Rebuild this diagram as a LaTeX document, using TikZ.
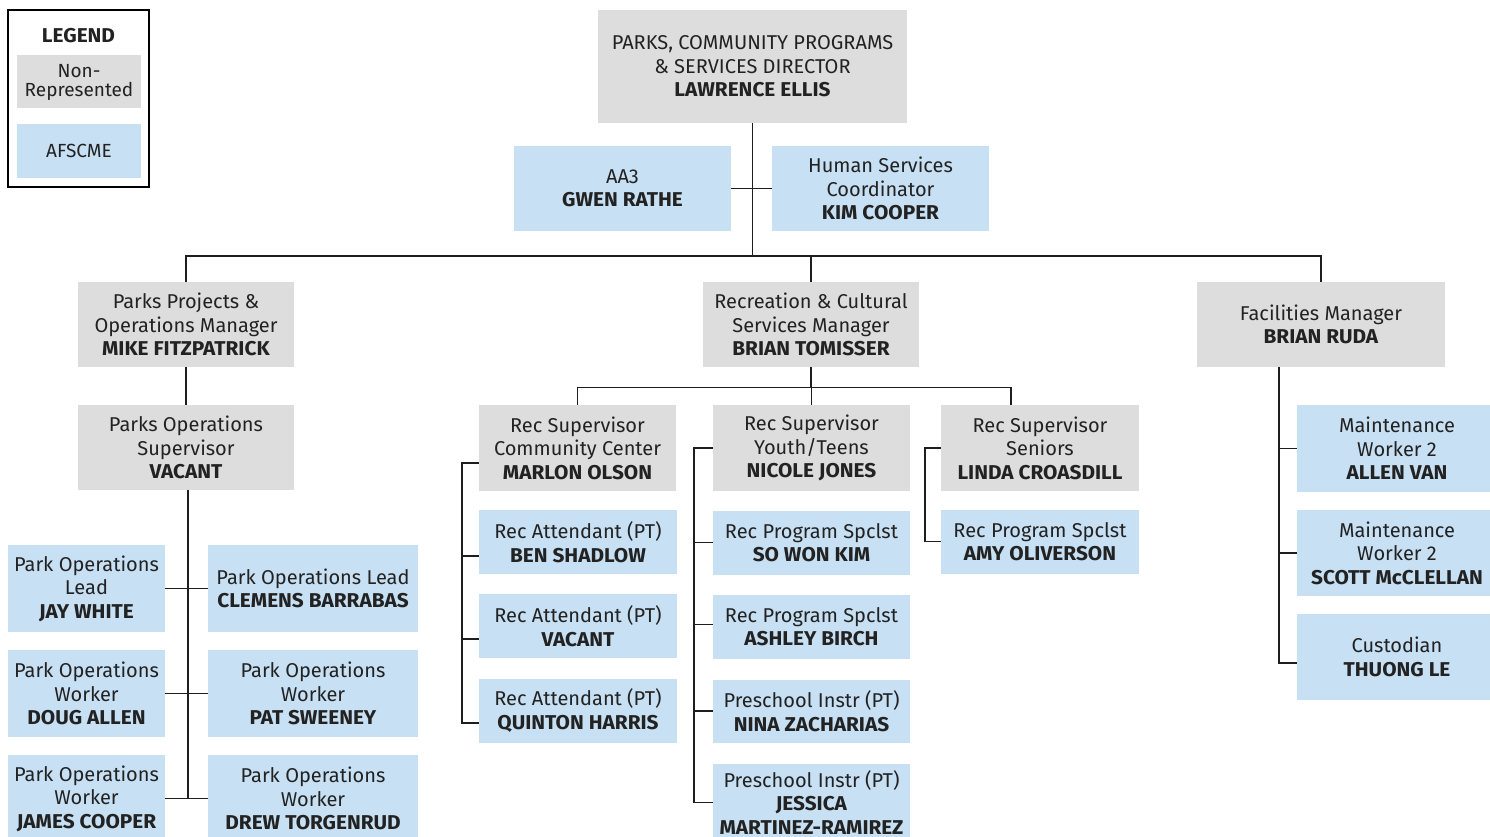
\documentclass[tikz,border=0pt]{standalone}
\usepackage{fontspec}
\setmainfont[BoldFeatures={FakeStretch=1.04}]{Fira Sans}
\begin{document}
\begin{tikzpicture}[x=1pt,y=-1pt,
  every node/.style={inner sep=0pt, align=center, text=textdark,
    font=\fontsize{20}{23.5}\selectfont},
  sz/.style 2 args={minimum width=#1pt, minimum height=#2pt},
  nonrep/.style={fill=nonrepfill},
  afscme/.style={fill=afscmefill},
  link/.style={line width=1.3pt, draw=linecol}]
\definecolor{nonrepfill}{HTML}{DDDDDD}
\definecolor{afscmefill}{HTML}{C7E0F3}
\definecolor{textdark}{HTML}{222222}
\definecolor{linecol}{HTML}{1E1E1E}
\useasboundingbox (0,0) rectangle (1490,837);

% ---- legend ----
\node[draw=black, line width=2pt, sz={141}{177}] (legend) at (78.5,98.5) {};
\node[font=\fontsize{20}{23.5}\selectfont\bfseries] (legtitle) at (78.5,36) {LEGEND};
\node[nonrep, sz={124}{53}, font=\fontsize{19}{19}\selectfont] (legnr) at (79,82) {Non-\\Represented};
\node[afscme, sz={124}{54}, font=\fontsize{19}{19}\selectfont] (legaf) at (79,151) {AFSCME};

% ---- director and staff ----
\node[nonrep, sz={309}{113}] (dir) at (752.5,66.5)
  {PARKS, COMMUNITY PROGRAMS\\\& SERVICES DIRECTOR\\\textbf{LAWRENCE ELLIS}};
\node[afscme, sz={217}{85}] (aa3) at (622.5,188.5) {AA3\\\textbf{GWEN RATHE}};
\node[afscme, sz={217}{85}] (hsc) at (880.5,188.5) {Human Services\\Coordinator\\\textbf{KIM COOPER}};

% ---- managers ----
\node[nonrep, sz={216}{85}] (pp) at (186,324.5) {Parks Projects \&\\Operations Manager\\\textbf{MIKE FITZPATRICK}};
\node[nonrep, sz={216}{85}] (rc) at (811,324.5) {Recreation \& Cultural\\Services Manager\\\textbf{BRIAN TOMISSER}};
\node[nonrep, sz={248}{85}] (fm) at (1321,324.5) {Facilities Manager\\\textbf{BRIAN RUDA}};

% ---- parks operations ----
\node[nonrep, sz={216}{85}] (pos) at (186,447.5) {Parks Operations\\Supervisor\\\textbf{VACANT}};
\node[afscme, sz={157}{87}] (w1l) at (86.5,588.5) {Park Operations\\Lead\\\textbf{JAY WHITE}};
\node[afscme, sz={210}{87}] (w1r) at (313,588.5) {Park Operations Lead\\\textbf{CLEMENS BARRABAS}};
\node[afscme, sz={157}{87}] (w2l) at (86.5,693.5) {Park Operations\\Worker\\\textbf{DOUG ALLEN}};
\node[afscme, sz={210}{87}] (w2r) at (313,693.5) {Park Operations\\Worker\\\textbf{PAT SWEENEY}};
\node[afscme, sz={157}{87}] (w3l) at (86.5,798.5) {Park Operations\\Worker\\\textbf{JAMES COOPER}};
\node[afscme, sz={210}{87}] (w3r) at (313,798.5) {Park Operations\\Worker\\\textbf{DREW TORGENRUD}};

% ---- recreation supervisors ----
\node[nonrep, sz={197}{86}] (rs1) at (577.5,448) {Rec Supervisor\\Community Center\\\textbf{MARLON OLSON}};
\node[nonrep, sz={197}{86}] (rs2) at (811.5,448) {Rec Supervisor\\Youth/Teens\\\textbf{NICOLE JONES}};
\node[nonrep, sz={198}{86}] (rs3) at (1040,448) {Rec Supervisor\\Seniors\\\textbf{LINDA CROASDILL}};

\node[afscme, sz={198}{64}] (ra1) at (578,542) {Rec Attendant (PT)\\\textbf{BEN SHADLOW}};
\node[afscme, sz={198}{64}] (ra2) at (578,626) {Rec Attendant (PT)\\\textbf{VACANT}};
\node[afscme, sz={198}{64}] (ra3) at (578,710.5) {Rec Attendant (PT)\\\textbf{QUINTON HARRIS}};

\node[afscme, sz={197}{64}] (ps1) at (811.5,542.5) {Rec Program Spclst\\\textbf{SO WON KIM}};
\node[afscme, sz={197}{64}] (ps2) at (811.5,626.5) {Rec Program Spclst\\\textbf{ASHLEY BIRCH}};
\node[afscme, sz={197}{63}] (pi1) at (811.5,711) {Preschool Instr (PT)\\\textbf{NINA ZACHARIAS}};
\node[afscme, sz={197}{77}] (pi2) at (811.5,802.5) {Preschool Instr (PT)\\\textbf{JESSICA}\\\textbf{MARTINEZ-RAMIREZ}};

\node[afscme, sz={198}{64}] (ps3) at (1040,541.5) {Rec Program Spclst\\\textbf{AMY OLIVERSON}};

% ---- facilities ----
\node[afscme, sz={200}{87}] (mw1) at (1397,448.5) {Maintenance\\Worker 2\\\textbf{ALLEN VAN}};
\node[afscme, sz={200}{86}] (mw2) at (1397,553) {Maintenance\\Worker 2\\\textbf{SCOTT McCLELLAN}};
\node[afscme, sz={200}{86}] (cu) at (1397,657) {Custodian\\\textbf{THUONG LE}};

% ---- connectors: top level ----
\coordinate (busY) at (0,256);
\draw[link] (dir.south) -- (dir.south |- busY);
\draw[link] (aa3.east) -- (hsc.west);
\draw[link] (pp.north) -- (pp.north |- busY) -- (fm.north |- busY) -- (fm.north);
\draw[link] (rc.north) -- (rc.north |- busY);

% ---- parks operations tree ----
\draw[link] (pp.south) -- (pos.north);
\coordinate (pv) at ([xshift=2pt]pos.south);
\draw[link] (pv) -- (pv |- w3l.east);
\draw[link] (w1l.east) -- (w1r.west);
\draw[link] (w2l.east) -- (w2r.west);
\draw[link] (w3l.east) -- (w3r.west);

% ---- recreation tree ----
\coordinate (rbus) at (0,387.5);
\coordinate (senTop) at ([xshift=-29pt]rs3.north);
\draw[link] (rc.south) -- (rc.south |- rbus);
\draw[link] (rs1.north) |- (senTop |- rbus) -- (senTop);
\draw[link] (rs2.north) -- (rs2.north |- rbus);

% community center bracket
\coordinate (cbx) at (462,0);
\coordinate (c1) at ([yshift=-15pt]rs1.west);
\coordinate (c2) at ([yshift=-14pt]ra1.west);
\coordinate (c3) at ([yshift=-13pt]ra2.west);
\coordinate (c4) at ([yshift=-12.5pt]ra3.west);
\draw[link] (c1) -- (cbx |- c1) -- (cbx |- c4) -- (c4);
\draw[link] (c2) -- (cbx |- c2);
\draw[link] (c3) -- (cbx |- c3);

% youth/teens bracket
\coordinate (ybx) at (694,0);
\coordinate (y2) at ([yshift=2pt]ps2.west);
\draw[link] (rs2.west) -- (ybx |- rs2.west) -- (ybx |- pi2.west) -- (pi2.west);
\draw[link] (ps1.west) -- (ybx |- ps1.west);
\draw[link] (y2) -- (ybx |- y2);
\draw[link] (pi1.west) -- (ybx |- pi1.west);

% seniors bracket
\coordinate (sbx) at (925,0);
\draw[link] (rs3.west) -- (sbx |- rs3.west) -- (sbx |- ps3.west) -- (ps3.west);

% ---- facilities bracket ----
\coordinate (fbx) at (1279,0);
\coordinate (f3) at ([yshift=-6pt]cu.west);
\draw[link] (fbx |- fm.south) -- (fbx |- f3) -- (f3);
\draw[link] (mw1.west) -- (fbx |- mw1.west);
\draw[link] (mw2.west) -- (fbx |- mw2.west);
\end{tikzpicture}
\end{document}
